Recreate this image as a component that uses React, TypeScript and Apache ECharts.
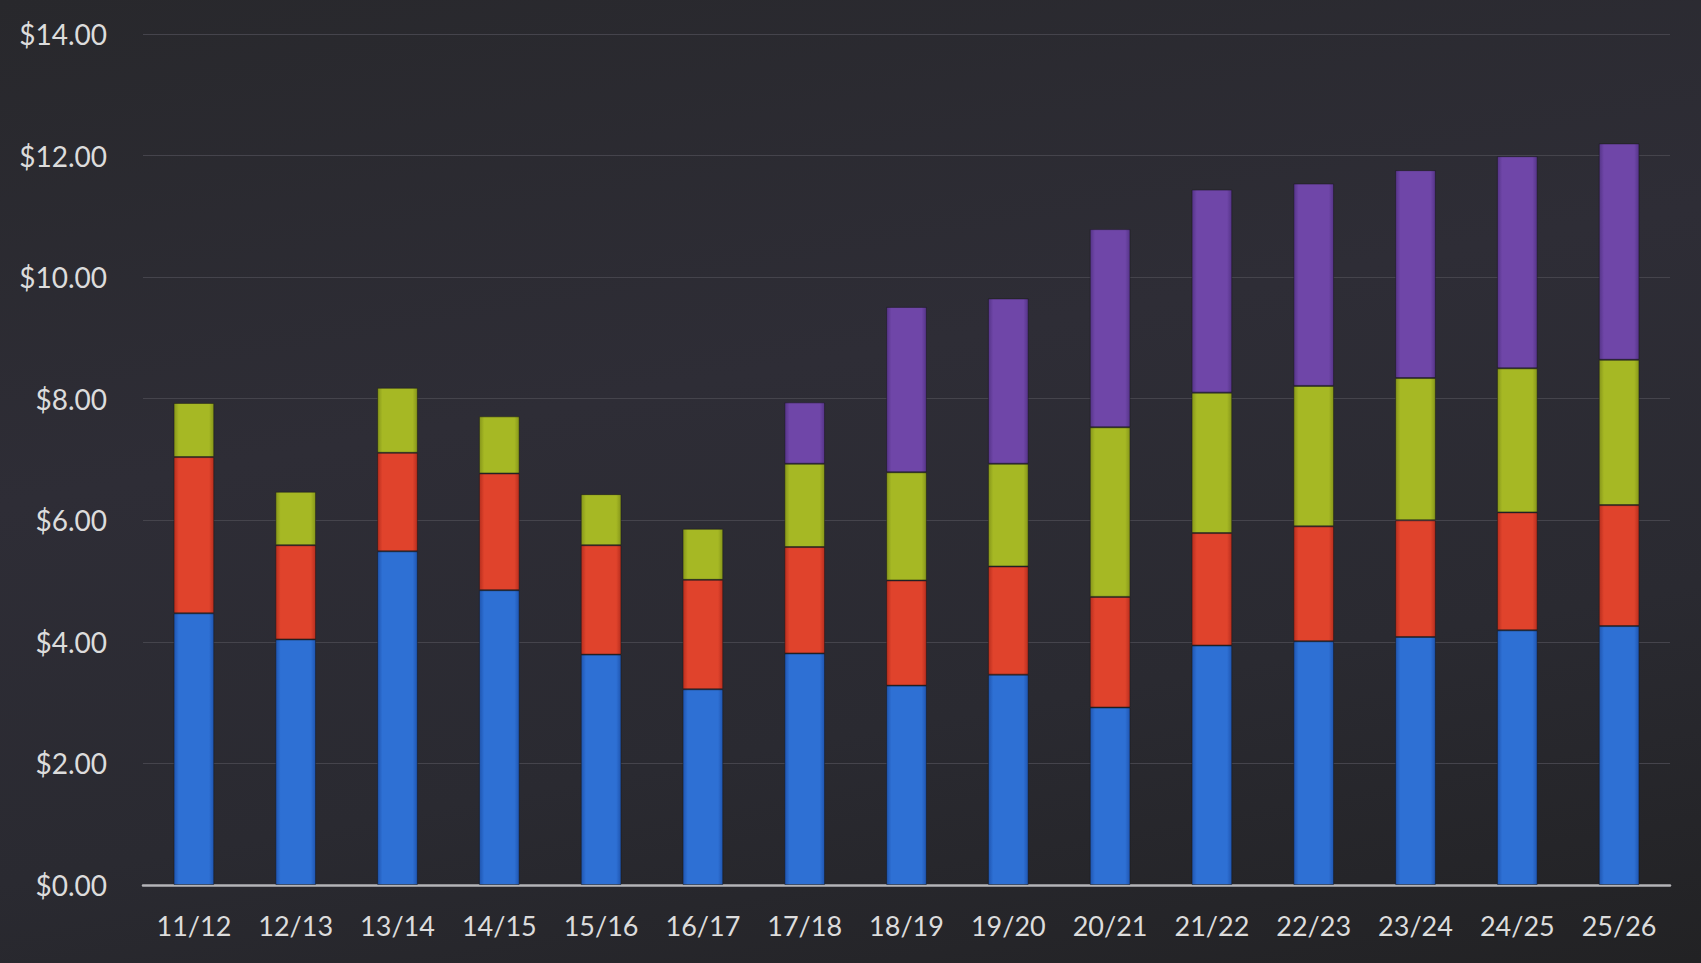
import React, { useEffect, useRef } from "react";
import * as echarts from "echarts";

const categories = ["11/12", "12/13", "13/14", "14/15", "15/16", "16/17", "17/18", "18/19", "19/20", "20/21", "21/22", "22/23", "23/24", "24/25", "25/26"];
const blueValues = [4.47, 4.04, 5.49, 4.85, 3.79, 3.22, 3.81, 3.28, 3.46, 2.92, 3.94, 4.01, 4.08, 4.19, 4.26];
const redValues = [2.57, 1.55, 1.62, 1.92, 1.80, 1.80, 1.75, 1.73, 1.78, 1.82, 1.85, 1.89, 1.92, 1.94, 1.99];
const greenValues = [0.89, 0.88, 1.07, 0.94, 0.84, 0.84, 1.37, 1.78, 1.69, 2.79, 2.31, 2.31, 2.34, 2.37, 2.39];
const purpleValues = [0, 0, 0, 0, 0, 0, 1.01, 2.72, 2.72, 3.26, 3.34, 3.33, 3.42, 3.49, 3.56];
const yTicks = { min: 0, max: 14, interval: 2 };

function grad(edge: string, mid: string) {
  return new echarts.graphic.LinearGradient(0, 0, 1, 0, [
    { offset: 0, color: edge },
    { offset: 0.12, color: mid },
    { offset: 0.88, color: mid },
    { offset: 1, color: edge },
  ]);
}

export default function App() {
  const ref = useRef<HTMLDivElement>(null);
  useEffect(() => {
    if (!ref.current) return;
    const chart = echarts.init(ref.current, undefined, { renderer: "svg" });
    const mk = (name: string, data: number[], edge: string, mid: string) => ({
      name,
      type: "bar",
      stack: "total",
      barWidth: "40%",
      data: data.map((v) => (v === 0 ? null : v)),
      itemStyle: { color: grad(edge, mid), borderColor: "rgba(20,20,20,0.45)", borderWidth: 1 },
    });
    chart.setOption({
      animation: false,
      backgroundColor: "transparent",
      grid: { left: 143, right: 31, top: 34, bottom: 78 },
      xAxis: {
        type: "category",
        data: categories,
        axisLine: { lineStyle: { color: "#b4b4b8", width: 2.5 } },
        axisTick: { show: false },
        axisLabel: { color: "#dcdcdc", fontSize: 27, fontFamily: "Lato, 'Open Sans', sans-serif", margin: 27 },
      },
      yAxis: {
        type: "value",
        min: yTicks.min,
        max: yTicks.max,
        interval: yTicks.interval,
        axisLine: { show: false },
        axisTick: { show: false },
        splitLine: { lineStyle: { color: "#45444c", width: 1 } },
        axisLabel: {
          color: "#dcdcdc",
          fontSize: 28,
          fontFamily: "Lato, 'Open Sans', sans-serif",
          margin: 36,
          formatter: (v: number) => "$" + v.toFixed(2),
        },
      },
      series: [
        mk("Blue", blueValues, "#1f55b0", "#2e70d4"),
        mk("Red", redValues, "#b82e1e", "#e0432c"),
        mk("Green", greenValues, "#86961a", "#a6b824"),
        mk("Purple", purpleValues, "#553488", "#6f46a8"),
      ],
    });
    return () => chart.dispose();
  }, []);
  return (
    <div
      style={{
        position: "absolute",
        left: 0,
        top: 0,
        width: 1701,
        height: 963,
        background: "linear-gradient(170deg, #28282c 0%, #2e2d36 40%, #2a2a31 70%, #222224 100%)",
      }}
    >
      <div ref={ref} style={{ width: 1701, height: 963 }} />
    </div>
  );
}
